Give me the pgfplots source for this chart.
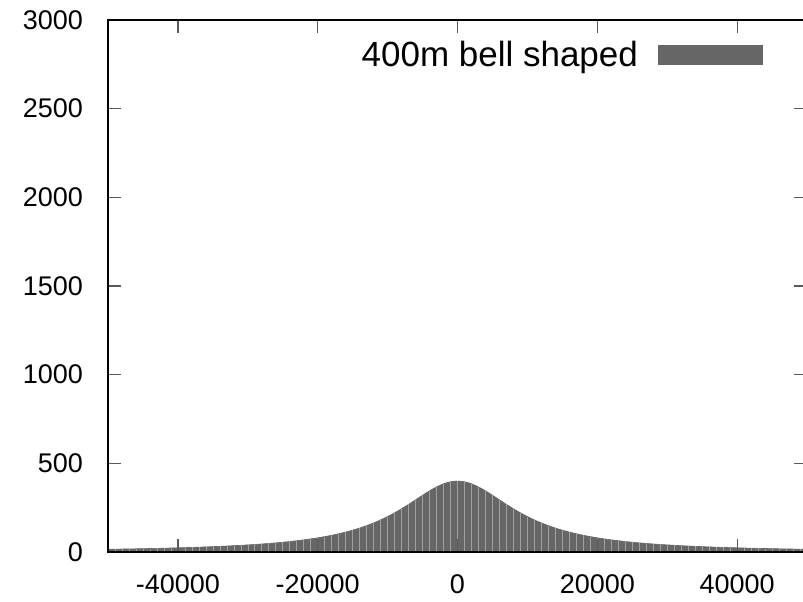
\documentclass[border=0pt]{standalone}
\usepackage{pgfplots}
\pgfplotsset{compat=1.18}
\usepackage{fontspec}
\setmainfont{Liberation Sans}

% Bell shaped (400 m peak) profile, sampled every 1000 m
\pgfplotstableread{
x h
-50000 15.38
-49000 15.99
-48000 16.64
-47000 17.32
-46000 18.05
-45000 18.82
-44000 19.65
-43000 20.52
-42000 21.46
-41000 22.46
-40000 23.53
-39000 24.68
-38000 25.91
-37000 27.23
-36000 28.65
-35000 30.19
-34000 31.85
-33000 33.64
-32000 35.59
-31000 37.70
-30000 40.00
-29000 42.51
-28000 45.25
-27000 48.25
-26000 51.55
-25000 55.17
-24000 59.17
-23000 63.59
-22000 68.49
-21000 73.94
-20000 80.00
-19000 86.77
-18000 94.34
-17000 102.83
-16000 112.36
-15000 123.08
-14000 135.14
-13000 148.70
-12000 163.93
-11000 181.00
-10000 200.00
-9000 220.99
-8000 243.90
-7000 268.46
-6000 294.12
-5000 320.00
-4000 344.83
-3000 366.97
-2000 384.62
-1000 396.04
0 400.00
1000 396.04
2000 384.62
3000 366.97
4000 344.83
5000 320.00
6000 294.12
7000 268.46
8000 243.90
9000 220.99
10000 200.00
11000 181.00
12000 163.93
13000 148.70
14000 135.14
15000 123.08
16000 112.36
17000 102.83
18000 94.34
19000 86.77
20000 80.00
21000 73.94
22000 68.49
23000 63.59
24000 59.17
25000 55.17
26000 51.55
27000 48.25
28000 45.25
29000 42.51
30000 40.00
31000 37.70
32000 35.59
33000 33.64
34000 31.85
35000 30.19
36000 28.65
37000 27.23
38000 25.91
39000 24.68
40000 23.53
41000 22.46
42000 21.46
43000 20.52
44000 19.65
45000 18.82
46000 18.05
47000 17.32
48000 16.64
49000 15.99
50000 15.38
}\bellprofile

\definecolor{barfill}{RGB}{102,102,102}
\definecolor{baredge}{RGB}{160,160,160}

\begin{document}
\begin{tikzpicture}
\begin{axis}[
  name=ax,
  scale only axis,
  width=349.5pt, height=266pt,
  xmin=-50000, xmax=50000,
  ymin=0, ymax=3000,
  xtick={-40000,-20000,0,20000,40000},
  ytick={0,500,1000,1500,2000,2500,3000},
  scaled x ticks=false, scaled y ticks=false,
  /pgf/number format/.cd, fixed, 1000 sep={}, assume math mode=true,
  /pgfplots/.cd,
  tick align=inside,
  major tick length=6.5pt,
  tick style={black!65, line width=0.6pt},
  axis line style={black, line width=1.3pt},
  axis on top,
  ticklabel style={font=\fontsize{13.5}{16}\selectfont},
  xticklabel style={yshift=-8pt},
  yticklabel style={xshift=-9pt},
  legend style={
    at={(rel axis cs:0.937,0.934)}, anchor=east,
    draw=none, fill=none, inner sep=0pt,
    font=\fontsize{17.5}{20}\selectfont,
    legend cell align=right,
    /tikz/every odd column/.append style={column sep=8pt},
  },
  legend plot pos=right,
  legend image code/.code={
    \fill[barfill] (0pt,-4.75pt) rectangle (52pt,4.75pt);
  },
]
% filled profile
\addplot[fill=barfill, draw=barfill, line width=0.3pt, smooth]
  table[x=x, y=h] {\bellprofile} \closedcycle;
\addlegendentry{400m bell shaped}
% thin separators between the boxes
\addplot[ycomb, draw=baredge, line width=0.3pt, mark=none, forget plot]
  table[x=x, y=h] {\bellprofile};
\end{axis}
\pgfresetboundingbox
\path[use as bounding box] ([shift={(-54pt,-25pt)}]ax.south west)
  rectangle ([shift={(-2pt,10pt)}]ax.north east);
\end{tikzpicture}
\end{document}
